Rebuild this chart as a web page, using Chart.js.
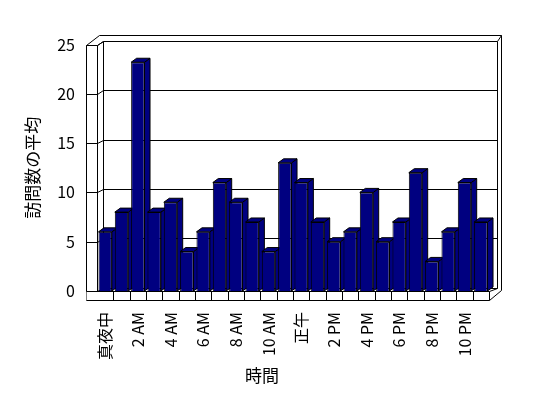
<!DOCTYPE html>
<html lang="ja">
  <head>
    <meta charset="UTF-8" />
    <title>訪問数の平均</title>
    <script src="https://cdn.jsdelivr.net/npm/chart.js"></script>
    <style>
      html, body { margin: 0; padding: 0; background: #fff; }
    </style>
  </head>
  <body>
    <canvas id="visitsChart" width="548" height="398"></canvas>

    <script>
      // data
      const hourLabels = [
        "真夜中", "", "2 AM", "", "4 AM", "", "6 AM", "", "8 AM", "", "10 AM", "",
        "正午", "", "2 PM", "", "4 PM", "", "6 PM", "", "8 PM", "", "10 PM", "",
      ];
      const visitAverages = [
        6, 8, 23.2, 8, 9, 4, 6, 11, 9, 7, 4, 13,
        11, 7, 5, 6, 10, 5, 7, 12, 3, 6, 11, 7,
      ];
      const yTicks = [0, 5, 10, 15, 20, 25];
      const xTitle = "時間";
      const yTitle = "訪問数の平均";

      const FONT = "'Noto Sans CJK JP', 'Noto Sans', sans-serif";
      const NAVY = "#000080";
      const DX = 5.5; // bar depth
      const DY = -4;

      function line(ctx, pts) {
        ctx.beginPath();
        ctx.moveTo(pts[0][0], pts[0][1]);
        for (let i = 1; i < pts.length; i++) ctx.lineTo(pts[i][0], pts[i][1]);
        ctx.stroke();
      }

      // walls, floor and 3D faces of the bars
      const frame3d = {
        id: "frame3d",
        beforeDatasetsDraw(chart) {
          const { ctx, chartArea: a, scales } = chart;
          const y = scales.y;
          const px = (v) => Math.round(v) + 0.5;
          const L = px(a.left), R = px(a.right), B = px(a.bottom), T = px(y.getPixelForValue(25));
          const outL = px(a.left - 11);
          const floorB = px(a.bottom + 8.5);
          const backL = px(a.left + 5.5), backR = px(a.right + 8);
          const backY = (v) => px(y.getPixelForValue(v) - 3.5);
          const outTop = px(y.getPixelForValue(25) - 9.5);
          const outR = px(a.right + 12);

          ctx.save();
          ctx.strokeStyle = "#000";
          ctx.lineWidth = 1;

          // back wall grid
          yTicks.forEach((v) => line(ctx, [[backL, backY(v)], [backR, backY(v)]]));

          // left wall
          line(ctx, [[outL, floorB], [outL, T], [L, T], [L, B]]);
          line(ctx, [[L, T], [backL, backY(25)], [backL, backY(0)]]);
          line(ctx, [[outL, T], [backL - 4, outTop], [outR, outTop], [backR, backY(25)], [backR, backY(0)]]);
          line(ctx, [[outR, outTop], [outR, B - 1]]);
          yTicks.forEach((v) => {
            const yy = px(y.getPixelForValue(v));
            line(ctx, [[outL, yy], [L, yy], [backL, backY(v)]]);
          });

          // floor
          ctx.fillStyle = "#fff";
          ctx.fillRect(outL, B, R - outL, floorB - B);
          line(ctx, [[outL, B], [R, B], [R, floorB], [outL, floorB]]);
          line(ctx, [[R, floorB], [outR, B - 1]]);
          line(ctx, [[R, B], [backR, backY(0)]]);
          const step = (a.right - a.left) / hourLabels.length;
          for (let k = 1; k < hourLabels.length; k++) {
            const xx = px(a.left + k * step);
            line(ctx, [[xx, B], [xx, floorB]]);
          }

          // bar sides and tops
          ctx.fillStyle = NAVY;
          chart.getDatasetMeta(0).data.forEach((el) => {
            const l = el.x - el.width / 2, r = el.x + el.width / 2;
            const t = el.y, b = el.base;
            ctx.beginPath();
            ctx.moveTo(r, b); ctx.lineTo(r, t); ctx.lineTo(r + DX, t + DY);
            ctx.lineTo(r + DX, b + DY); ctx.closePath();
            ctx.fill(); ctx.stroke();
            ctx.beginPath();
            ctx.moveTo(l, t); ctx.lineTo(l + DX, t + DY); ctx.lineTo(r + DX, t + DY);
            ctx.lineTo(r, t); ctx.closePath();
            ctx.fill(); ctx.stroke();
          });
          ctx.restore();
        },
        afterDraw(chart) {
          const { ctx } = chart;
          ctx.save();
          ctx.fillStyle = "#000";
          ctx.font = "17px " + FONT;
          ctx.textAlign = "center";
          ctx.textBaseline = "middle";
          ctx.fillText(xTitle, 262, 376);
          ctx.restore();
        },
      };

      const ctx = document.getElementById("visitsChart").getContext("2d");
      new Chart(ctx, {
        type: "bar",
        data: {
          labels: hourLabels,
          datasets: [
            {
              data: visitAverages,
              backgroundColor: NAVY,
              borderColor: "#000",
              borderWidth: 1,
              categoryPercentage: 1,
              barPercentage: 0.82,
            },
          ],
        },
        options: {
          responsive: false,
          animation: false,
          clip: false,
          layout: { padding: { top: 44.5, right: 59, left: 0, bottom: 0 } },
          plugins: { legend: { display: false }, tooltip: { enabled: false } },
          scales: {
            x: {
              grid: { display: false, drawTicks: false },
              border: { display: false },
              ticks: {
                autoSkip: false,
                maxRotation: 90,
                minRotation: 90,
                padding: 21,
                color: "#000",
                font: { family: FONT, size: 16 },
              },
              afterFit(s) { s.height = 107; },
            },
            y: {
              min: 0,
              max: 25,
              grid: { display: false, drawTicks: false },
              border: { display: false },
              ticks: {
                stepSize: 5,
                padding: 22,
                color: "#000",
                font: { family: FONT, size: 16 },
              },
              title: {
                display: true,
                text: yTitle,
                color: "#000",
                font: { family: FONT, size: 17 },
                padding: { top: 22, bottom: 0 },
              },
              afterFit(s) { s.width = 97; },
            },
          },
        },
        plugins: [frame3d],
      });
    </script>
  </body>
</html>
